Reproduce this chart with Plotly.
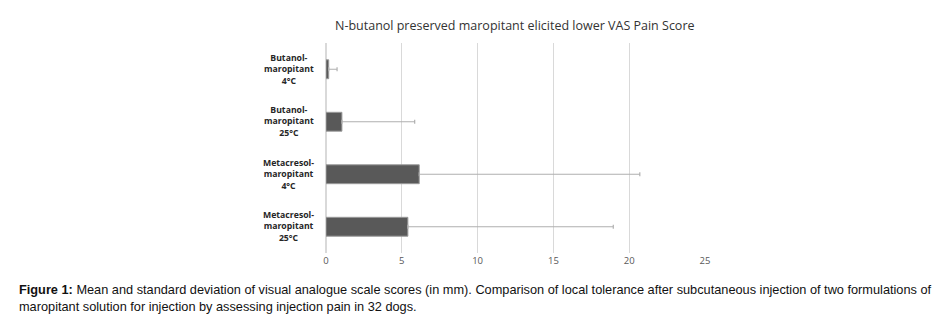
import plotly.graph_objects as go

categories = ["Butanol-<br>maropitant<br>4°C", "Butanol-<br>maropitant<br>25°C",
              "Metacresol-<br>maropitant<br>4°C", "Metacresol-<br>maropitant<br>25°C"]
means = [0.18, 1.05, 6.15, 5.4]
sds = [0.55, 4.8, 14.55, 13.55]
x_ticks = [0, 5, 10, 15, 20, 25]

fig = go.Figure()
fig.add_trace(go.Bar(
    y=categories, x=means, orientation="h", width=0.36,
    marker=dict(color="#595959", line=dict(color="#9a9a9a", width=1)),
    error_x=dict(type="data", array=sds, symmetric=False, arrayminus=[0]*4,
                 color="#b0b0b0", thickness=1.2, width=2),
))
for c in categories:
    fig.add_annotation(xref="paper", yref="y", x=-0.026, y=c, xanchor="right",
                       yanchor="middle", align="center", showarrow=False, text=c,
                       font=dict(family="Open Sans", size=8.7, color="#262626", weight="bold"))
fig.update_layout(
    width=948, height=318,
    margin=dict(l=326, r=243, t=43, b=65, autoexpand=False),
    paper_bgcolor="white", plot_bgcolor="white",
    showlegend=False,
    title=dict(text="N-butanol preserved maropitant elicited lower VAS Pain Score",
               x=0.543, xanchor="center", y=0.918, yanchor="middle",
               font=dict(family="Open Sans", size=12.5, color="#333333")),
    xaxis=dict(range=[0, 25], tickvals=x_ticks, showgrid=True, gridcolor="#d9d9d9",
               gridwidth=1, zeroline=True, zerolinecolor="#d9d9d9", showline=False,
               tickfont=dict(family="Open Sans", size=9.5, color="#595959"), ticks="",
               automargin=False),
    yaxis=dict(autorange="reversed", showgrid=False, showline=False, ticks="",
               showticklabels=False, automargin=False),
    bargap=0.6,
)
fig.add_annotation(
    xref="paper", yref="paper", x=-309/379, y=-0.13, xanchor="left", yanchor="top",
    align="left", showarrow=False,
    text="<b>Figure 1:</b> Mean and standard deviation of visual analogue scale scores (in mm). Comparison of local tolerance after subcutaneous injection of two formulations of<br>maropitant solution for injection by assessing injection pain in 32 dogs.",
    font=dict(family="Liberation Sans, Arial", size=12.75, color="#111111"),
)
fig.write_html("out.html", post_script="document.body.style.margin='0';",
               config={"displayModeBar": False})
